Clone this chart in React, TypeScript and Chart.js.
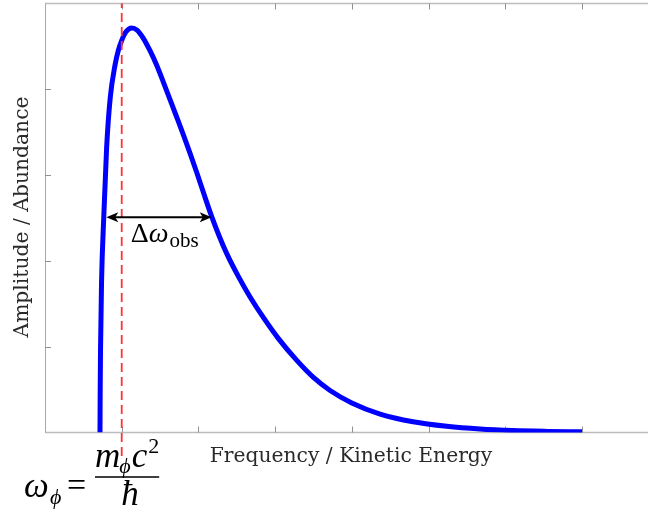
import React, { useEffect, useRef } from "react";
import { Chart, registerables } from "chart.js";

Chart.register(...registerables);

// ---- data ----
const curveX = [
  0.717, 0.719, 0.724, 0.737, 0.766, 0.803, 0.85, 0.913, 0.955, 1.0, 1.056, 1.13, 1.199,
  1.278, 1.369, 1.456, 1.54, 1.63, 1.715, 1.799, 1.89, 1.978, 2.075, 2.173, 2.27, 2.369,
  2.52, 2.673, 2.85, 3.038, 3.282, 3.495, 3.716, 3.999, 4.368, 4.798, 5.237, 5.671, 6.102,
  6.55, 7.0,
];
const curveY = [
  0.0, 0.45, 0.985, 1.754, 2.512, 3.316, 3.899, 4.283, 4.45, 4.57, 4.67, 4.714, 4.69,
  4.6, 4.45, 4.28, 4.09, 3.88, 3.68, 3.48, 3.255, 3.03, 2.77, 2.515, 2.29, 2.085,
  1.82, 1.58, 1.335, 1.1, 0.84, 0.645, 0.49, 0.345, 0.215, 0.125, 0.072, 0.04, 0.022,
  0.013, 0.008,
];
const restMassX = 1.0;
const restMassLineY = [-0.274, 5.0];
const halfMaxY = 2.51;
const fwhmLeftX = 0.766;
const fwhmRightX = 2.173;
const xTicks = [1, 2, 3, 4, 5, 6, 7];
const yTicks = [1, 2, 3, 4];
const xRange = [0, 7.86];
const yRange = [0, 5];
const xLabel = "Frequency / Kinetic Energy";
const yLabel = "Amplitude / Abundance";

const SERIF = '"DejaVu Serif", serif';
const MATH = '"Liberation Serif", serif';

function txt(ctx: CanvasRenderingContext2D, s: string, x: number, y: number, font: string) {
  ctx.font = font;
  ctx.fillText(s, x, y);
  return x + ctx.measureText(s).width;
}

const decor = {
  id: "decor",
  beforeDatasetsDraw(chart: any) {
    const { ctx, chartArea: a, scales } = chart;
    const xs = scales.x;
    const ys = scales.y;
    ctx.save();
    ctx.strokeStyle = "#bcbcbc";
    ctx.lineWidth = 1.5;
    ctx.beginPath();
    ctx.moveTo(a.left, a.top);
    ctx.lineTo(a.right, a.top);
    ctx.moveTo(a.left, a.bottom);
    ctx.lineTo(a.right, a.bottom);
    ctx.stroke();
    ctx.strokeStyle = "#a8a8a8";
    ctx.lineWidth = 1;
    ctx.beginPath();
    ctx.moveTo(a.left + 0.5, a.top);
    ctx.lineTo(a.left + 0.5, a.bottom);
    ctx.stroke();
    ctx.strokeStyle = "#909090";
    ctx.lineWidth = 1;
    ctx.beginPath();
    for (const t of xTicks) {
      const px = Math.round(xs.getPixelForValue(t)) + 0.5;
      ctx.moveTo(px, a.bottom);
      ctx.lineTo(px, a.bottom - 6);
      ctx.moveTo(px, a.top);
      ctx.lineTo(px, a.top + 6);
    }
    for (const t of yTicks) {
      const py = Math.round(ys.getPixelForValue(t)) + 0.5;
      ctx.moveTo(a.left, py);
      ctx.lineTo(a.left + 6, py);
    }
    ctx.stroke();
    ctx.restore();
  },
  afterDraw(chart: any) {
    const { ctx, chartArea: a, scales } = chart;
    const xs = scales.x;
    const ys = scales.y;
    ctx.save();
    // FWHM arrow
    const yA = ys.getPixelForValue(halfMaxY);
    const xL = xs.getPixelForValue(fwhmLeftX) + 2.5;
    const xR = xs.getPixelForValue(fwhmRightX);
    ctx.strokeStyle = "#000";
    ctx.fillStyle = "#000";
    ctx.lineWidth = 2;
    ctx.beginPath();
    ctx.moveTo(xL + 6, yA);
    ctx.lineTo(xR - 6, yA);
    ctx.stroke();
    const head = (tip: number, dir: number) => {
      ctx.beginPath();
      ctx.moveTo(tip, yA);
      ctx.lineTo(tip + dir * 12, yA - 5);
      ctx.lineTo(tip + dir * 9, yA);
      ctx.lineTo(tip + dir * 12, yA + 5);
      ctx.closePath();
      ctx.fill();
    };
    head(xL, 1);
    head(xR, -1);

    // Δω_obs label
    ctx.fillStyle = "#000";
    ctx.textBaseline = "alphabetic";
    ctx.textAlign = "left";
    let cx = xL + 24.5;
    const by = yA + 25;
    cx = txt(ctx, "Δ", cx, by, `28px ${MATH}`);
    cx = txt(ctx, "ω", cx, by, `italic 28px ${MATH}`);
    txt(ctx, "obs", cx + 1, by + 5, `21px ${MATH}`);

    // axis labels
    ctx.fillStyle = "#2a2a2a";
    ctx.textAlign = "center";
    ctx.font = `20.3px ${SERIF}`;
    ctx.fillText(xLabel, (a.left + a.right) / 2 + 4.5, a.bottom + 29);
    ctx.save();
    ctx.translate(28, (a.top + a.bottom) / 2 - 1);
    ctx.rotate(-Math.PI / 2);
    ctx.fillText(yLabel, 0, 0);
    ctx.restore();

    // formula ω_φ = m_φ c^2 / ħ
    ctx.fillStyle = "#000";
    ctx.textAlign = "left";
    const big = `italic 35px ${MATH}`;
    const sub = `italic 22px ${MATH}`;
    const base = 497;
    txt(ctx, "ω", 24, base, big);
    txt(ctx, "ϕ", 50, base + 7, sub);
    txt(ctx, "=", 67, base - 1, `34px ${MATH}`);
    const barL = 95;
    const barY = 477;
    let nx = barL;
    const nb = 467;
    nx = txt(ctx, "m", nx, nb, big);
    nx = txt(ctx, "ϕ", nx - 1, nb + 6, sub);
    nx = txt(ctx, "c", nx + 1, nb, big);
    nx = txt(ctx, "2", nx + 1, nb - 14, `22px ${MATH}`);
    const barR = nx;
    ctx.fillRect(barL, barY - 0.75, barR - barL, 1.5);
    ctx.textAlign = "center";
    ctx.font = big;
    ctx.fillText("ħ", (barL + barR) / 2 + 3, 505);
    ctx.restore();
  },
};

export default function App() {
  const ref = useRef<HTMLCanvasElement | null>(null);
  useEffect(() => {
    if (!ref.current) return;
    const chart = new Chart(ref.current, {
      type: "scatter",
      data: {
        datasets: [
          {
            data: curveX.map((x, i) => ({ x, y: curveY[i] })),
            showLine: true,
            borderColor: "#0000ff",
            borderWidth: 5,
            pointRadius: 0,
            cubicInterpolationMode: "monotone",
            borderCapStyle: "butt",
            borderJoinStyle: "round",
            order: 2,
          } as any,
          {
            data: restMassLineY.map((y) => ({ x: restMassX, y })),
            showLine: true,
            borderColor: "#ff3535",
            borderWidth: 1.8,
            borderDash: [9, 5],
            pointRadius: 0,
            clip: false,
            order: 1,
          } as any,
        ],
      },
      options: {
        responsive: false,
        animation: false,
        devicePixelRatio: 1,
        layout: { padding: { left: 45, right: 1, top: 3.5, bottom: 82.5 } },
        plugins: { legend: { display: false }, tooltip: { enabled: false }, title: { display: false } },
        scales: {
          x: { type: "linear", min: xRange[0], max: xRange[1], display: false },
          y: { type: "linear", min: yRange[0], max: yRange[1], display: false },
        },
      },
      plugins: [decor],
    });
    return () => chart.destroy();
  }, []);
  return (
    <div style={{ position: "absolute", left: 0, top: 0, width: 649, height: 515, background: "#fff" }}>
      <canvas ref={ref} width={649} height={515} style={{ width: 649, height: 515, display: "block" }} />
    </div>
  );
}
